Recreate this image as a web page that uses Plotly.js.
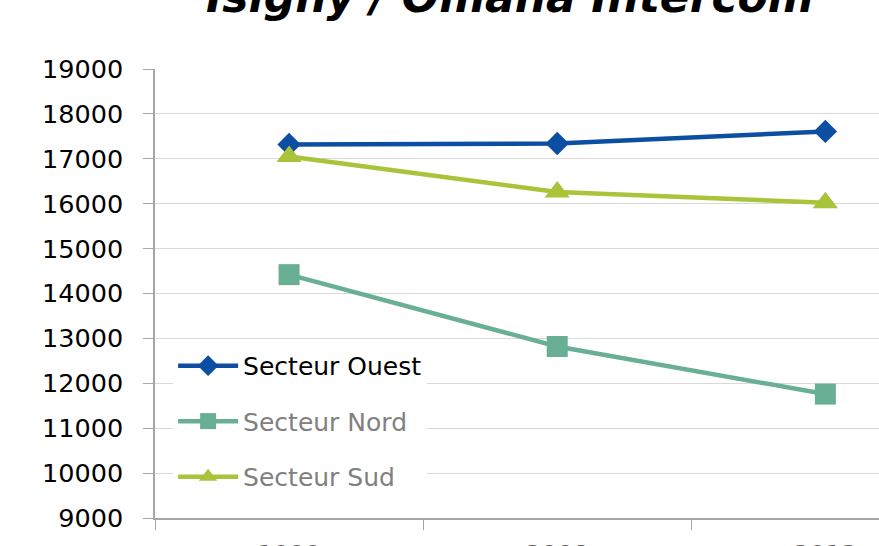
<!DOCTYPE html>
<html>
<head>
<meta charset="utf-8">
<script src="https://cdn.plot.ly/plotly-3.0.1.min.js"></script>
<style>
  html, body { margin: 0; padding: 0; background: #fff; }
  #chart { width: 879px; height: 546px; }
</style>
</head>
<body>
<div id="chart"></div>
<script>
var years = ['1999', '2008', '2013'];
var ouest = [17320, 17340, 17610];
var nord = [14420, 12820, 11760];
var sud = [17050, 16260, 16020];

var seriesNames = ['Secteur Ouest', 'Secteur Nord', 'Secteur Sud'];
var seriesColors = ['#0B4EA2', '#68AF94', '#A9C43A'];

function makeTrace(values, i, symbol, size) {
  var textColor = i === 0 ? '#000000' : '#808080';
  return {
    x: years,
    y: values,
    type: 'scatter',
    mode: 'lines+markers',
    name: '<span style="color:' + textColor + '">' + seriesNames[i] + '</span>',
    legendgroup: 'g' + i,
    line: { color: seriesColors[i], width: 4.5 },
    marker: { symbol: symbol, size: size, color: seriesColors[i] }
  };
}

var plotData = [
  makeTrace(ouest, 0, 'diamond', 18),
  makeTrace(nord, 1, 'square', 21),
  makeTrace(sud, 2, 'triangle-up', 22)
];

var layout = {
  width: 879,
  height: 546,
  margin: { l: 155, r: 0, t: 69, b: 28 },
  paper_bgcolor: '#ffffff',
  plot_bgcolor: '#ffffff',
  font: { family: 'DejaVu Sans, Verdana, sans-serif', size: 25, color: '#000000' },
  showlegend: true,
  legend: {
    x: 0.025,
    y: 0.39,
    xanchor: 'left',
    yanchor: 'top',
    bgcolor: '#ffffff',
    traceorder: 'grouped',
    tracegroupgap: 20,
    itemwidth: 60,
    font: { size: 25, color: '#808080' }
  },
  xaxis: {
    type: 'category',
    range: [-0.5, 2.2],
    showgrid: false,
    showline: true,
    linecolor: '#A6A6A6',
    linewidth: 1.5,
    ticks: 'outside',
    tickson: 'boundaries',
    ticklen: 10,
    tickcolor: '#A6A6A6',
    ticklabelstandoff: 13,
    tickfont: { color: '#595959', size: 25 },
    zeroline: false
  },
  yaxis: {
    range: [9000, 19000],
    dtick: 1000,
    tickformat: 'd',
    showgrid: true,
    gridcolor: '#D9D9D9',
    gridwidth: 1,
    showline: true,
    linecolor: '#A6A6A6',
    linewidth: 1.5,
    ticks: 'outside',
    ticklen: 10,
    tickcolor: '#A6A6A6',
    ticklabelstandoff: 15,
    tickfont: { color: '#000000', size: 25.5 },
    zeroline: false
  },
  annotations: [{
    text: '<b><i>Isigny / Omaha Intercom</i></b>',
    xref: 'paper',
    yref: 'paper',
    x: 0.49,
    y: 1.1,
    xanchor: 'center',
    yanchor: 'bottom',
    showarrow: false,
    font: { size: 44, color: '#000000' }
  }]
};

Plotly.newPlot('chart', plotData, layout, { displayModeBar: false });
</script>
</body>
</html>
